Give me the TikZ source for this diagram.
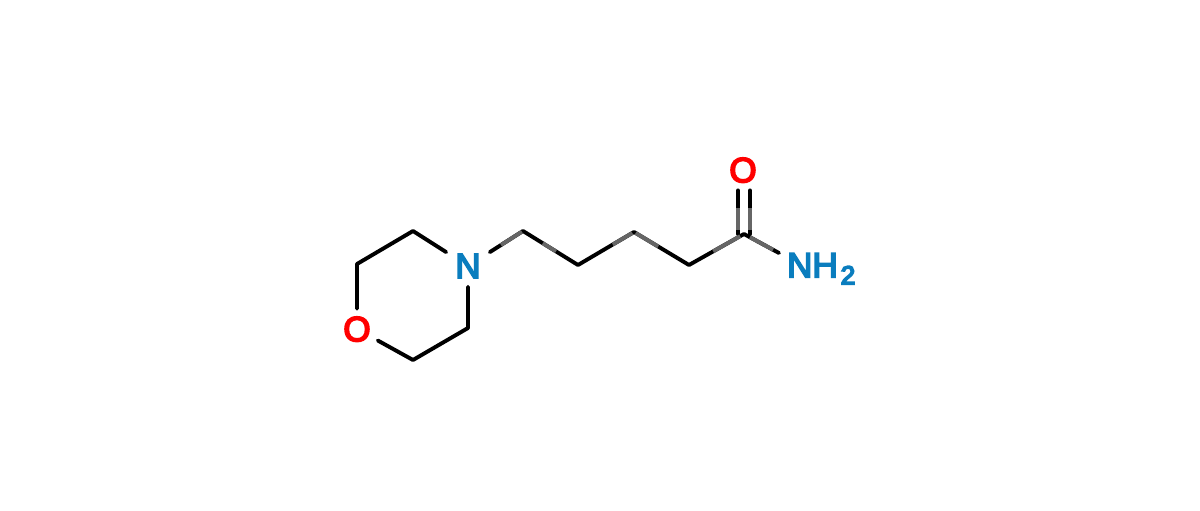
\documentclass[tikz,border=0pt]{standalone}
\usepackage{fontspec}
\usetikzlibrary{calc}
\setmainfont{Liberation Sans}
\definecolor{nblue}{HTML}{0A7DBE}
\definecolor{ored}{HTML}{FF0000}
\definecolor{fade}{HTML}{666666}
\newcommand{\heavyblue}[1]{\special{pdf:code 2 Tr 1.7 w 0.039 0.49 0.745 RG}#1\special{pdf:code 0 Tr}}
\newcommand{\heavyred}[1]{\special{pdf:code 2 Tr 1.7 w 1 0 0 RG}#1\special{pdf:code 0 Tr}}
\tikzset{
  bond/.style={line width=3.9pt,black,line cap=round,line join=round},
  fadebond/.style={line width=3.9pt,fade},
  atomlabel/.style={font=\fontsize{35}{35}\selectfont,inner sep=0pt,text depth=0pt},
}
\begin{document}
\begin{tikzpicture}[x=1pt,y=-1pt]
\useasboundingbox (0,0) rectangle (1200,511);
\fill[white] (0,0) rectangle (1200,511);
\coordinate (c1) at (357,264);
\coordinate (c2) at (413,231);
\coordinate (c3) at (468,328);
\coordinate (c4) at (413,360);
\coordinate (c5) at (523,231);
\coordinate (c6) at (578,265);
\coordinate (c7) at (634,232);
\coordinate (c8) at (689,265);
\coordinate (c9) at (744,234);
\node[atomlabel,text=nblue,inner xsep=9pt,inner ysep=8.5pt] (n) at (468,266) {\heavyblue{N}};
\node[atomlabel,text=ored,inner xsep=7pt,inner ysep=8pt] (ol) at (357,329) {\heavyred{O}};
\node[atomlabel,text=ored,inner xsep=7pt,inner ysep=8pt] (ot) at (743,170) {\heavyred{O}};
\node[atomlabel,text=nblue,anchor=north west,inner xsep=8pt,inner ysep=0pt] (nh) at (779,253) {\heavyblue{NH\kern3pt\raisebox{-7pt}{\fontsize{26}{26}\selectfont 2}}};
\draw[bond] (n) -- (c2) -- (c1) -- (ol) -- (c4) -- (c3) -- (n);
\draw[bond] (n) -- (c5) -- (c6) -- (c7) -- (c8) -- (c9) -- (nh.north west);
\coordinate (dl) at ([xshift=-5pt]ot.south);
\coordinate (dr) at ([xshift=7pt]ot.south);
\draw[bond] (dl) -- (dl |- c9);
\draw[bond] (dr) -- (dr |- c9);
% greyed stretches of the bonds
\draw[fadebond] ($(c5)!0.4!(n)$) -- ($(c5)!0.02!(n)$);
\draw[fadebond] ($(c5)!0.36!(c6)$) -- ($(c5)!0.6!(c6)$);
\draw[fadebond] ($(c6)!0.62!(c7)$) -- ($(c6)!0.97!(c7)$);
\draw[fadebond] ($(c7)!0.03!(c8)$) -- ($(c7)!0.44!(c8)$);
\draw[fadebond] ($(c8)!0.44!(c9)$) -- ($(c8)!0.93!(c9)$);
\draw[fadebond] ($(c9)!0.17!(nh.north west)$) -- ($(c9)!0.83!(nh.north west)$);
\draw[fadebond] ($(dl)!0.4!(dl |- c9)$) -- ($(dl)!0.9!(dl |- c9)$);
\draw[fadebond] ($(dr)!0.4!(dr |- c9)$) -- ($(dr)!0.9!(dr |- c9)$);
\end{tikzpicture}
\end{document}
